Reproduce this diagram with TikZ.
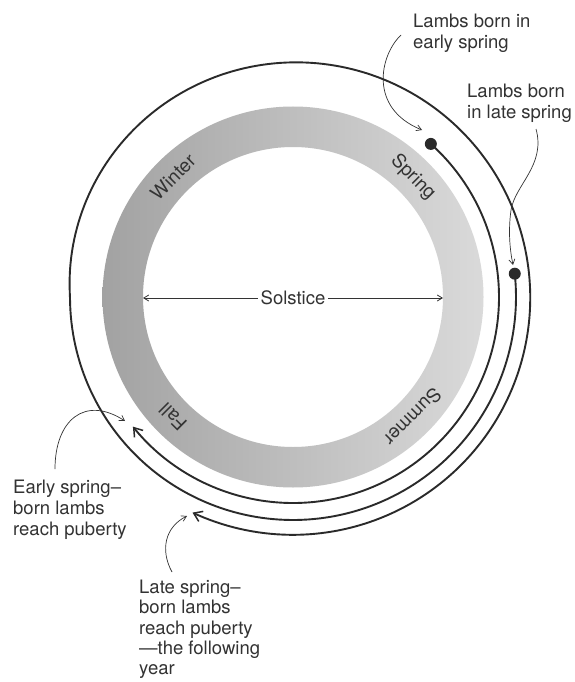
\documentclass[tikz,border=0pt]{standalone}
\usepackage{fontspec}
\setmainfont{TeX Gyre Heros}
\usetikzlibrary{arrows.meta}
\definecolor{ink}{HTML}{2A2A2A}
\definecolor{txt}{HTML}{333333}
\definecolor{ringL}{HTML}{A2A2A2}
\definecolor{ringR}{HTML}{DADADA}
\begin{document}
\begin{tikzpicture}[x=1pt,y=-1pt,
  declare function={sr(\t)=238-15*exp(min(0,\t+180)/60);},
  lbl/.style={font=\fontsize{18.5}{21}\selectfont, text=txt, align=left, inner sep=0pt, anchor=north west},
  season/.style={font=\fontsize{19}{21}\selectfont, text=txt, inner sep=0pt},
  lamb/.style={draw=ink, line width=1.9pt},
  pointer/.style={draw=txt, line width=0.7pt, -{Straight Barb[length=5pt,width=6pt]}},
  solarrow/.style={draw=txt, line width=0.8pt, -{Straight Barb[length=5pt,width=6pt]}},
  dot/.style={circle, fill=ink, minimum size=12pt, inner sep=0pt},
  bigtip/.style={-{Straight Barb[length=8pt,width=11pt,line width=1.5pt]}}
]
\useasboundingbox (0,0) rectangle (575,682);
\fill[white] (0,0) rectangle (575,682);
% season ring
\path[even odd rule, left color=ringL, right color=ringR]
  (293,297) circle[radius=190.5] (293,297) circle[radius=150];
\node[season, rotate=45]  (winter) at (173,177) {Winter};
\node[season, rotate=-45] (spring) at (413,177) {Spring};
\node[season, rotate=225] (summer) at (413,417) {Summer};
\node[season, rotate=135] (fall)   at (173,417) {Fall};
% solstice
\node[font=\fontsize{18.5}{21}\selectfont, text=txt, inner sep=2.5pt] (sol) at (293,298) {Solstice};
\coordinate (inL) at (143,298);
\coordinate (inR) at (443,298);
\draw[solarrow] (sol.west) -- (inL);
\draw[solarrow] (sol.east) -- (inR);
% lamb paths
\node[dot] (dA) at ({293+206*cos(48)},{297-206*sin(48)}) {};
\node[dot] (dB) at ({293+223*cos(6)},{297-223*sin(6)}) {};
\draw[lamb, bigtip] (dA.center) arc[start angle=-48, end angle=141, radius=206];
\draw[lamb, bigtip] plot[domain=6:-475, samples=320, variable=\t]
  ({293+sr(\t)*cos(\t)},{297-sr(\t)*sin(\t)});
% labels
\node[lbl] (l1) at (413,14) {Lambs born in\\early spring};
\node[lbl] (l2) at (467,84) {Lambs born\\in late spring};
\node[lbl] (l3) at (13,480) {Early spring–\\born lambs\\reach puberty};
\node[lbl, font=\fontsize{18.5}{20.3}\selectfont] (l4) at (139,580) {Late spring–\\born lambs\\reach puberty\\—the following\\year};
% pointers
\coordinate (p1s) at (401,35);  \coordinate (p1e) at (422,130);
\coordinate (p2s) at (536,129); \coordinate (p2m) at (511,210); \coordinate (p2e) at (513,265);
\coordinate (p3s) at (55,469);  \coordinate (p3e) at (125,421);
\coordinate (p4s) at (172,572); \coordinate (p4e) at (187,516);
\draw[pointer] (p1s) .. controls (380,55) and (368,108) .. (p1e);
\draw[pointer] (p2s) .. controls (546,165) and (515,185) .. (p2m) .. controls (508,232) and (510,250) .. (p2e);
\draw[pointer] (p3s) .. controls (55,420) and (85,395) .. (p3e);
\draw[pointer] (p4s) .. controls (160,550) and (165,527) .. (p4e);
\end{tikzpicture}
\end{document}
